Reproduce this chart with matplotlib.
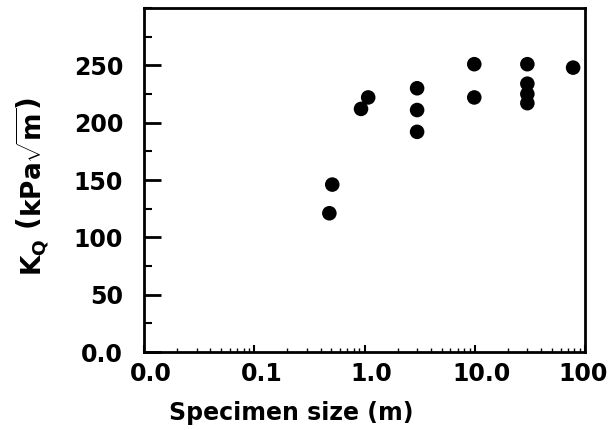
import matplotlib
matplotlib.use("Agg")
import matplotlib.pyplot as plt
import matplotlib.transforms as mtransforms
from matplotlib.ticker import FixedLocator, FixedFormatter, LogLocator, MultipleLocator, NullFormatter

plt.rcParams['font.family'] = ['DejaVu Sans']
plt.rcParams['font.weight'] = 'bold'
plt.rcParams['mathtext.fontset'] = 'custom'
plt.rcParams['mathtext.rm'] = 'DejaVu Sans:bold'
plt.rcParams['mathtext.it'] = 'DejaVu Sans:bold'
plt.rcParams['mathtext.sf'] = 'DejaVu Sans:bold'
plt.rcParams['mathtext.bf'] = 'DejaVu Sans:bold'

size_m = [0.48, 0.51, 0.93, 1.08, 3.0, 3.0, 3.0, 9.9, 9.9, 30, 30, 30, 30, 78]
kq = [121, 146, 212, 222, 230, 211, 192, 251, 222, 251, 234, 225, 217, 248]

xticks = [0.01, 0.1, 1, 10, 100]
xticklabels = ["0.0", "0.1", "1.0", "10.0", "100"]
yticks = [0, 50, 100, 150, 200, 250]
yticklabels = ["0.0", "50", "100", "150", "200", "250"]

fig = plt.figure(figsize=(6.08, 4.30), dpi=100)
ax = fig.add_axes([144/608, 1 - 352/430, (585-144)/608, (352-8)/430])
ax.scatter(size_m, kq, s=110, color='black', edgecolors='none', zorder=3)
ax.set_xscale('log')
ax.set_xlim(0.01, 100)
ax.set_ylim(0, 300)
ax.xaxis.set_major_locator(FixedLocator(xticks))
ax.xaxis.set_major_formatter(FixedFormatter(xticklabels))
ax.xaxis.set_minor_locator(LogLocator(base=10, subs=range(2, 10)))
ax.xaxis.set_minor_formatter(NullFormatter())
ax.yaxis.set_major_locator(FixedLocator(yticks))
ax.yaxis.set_major_formatter(FixedFormatter(yticklabels))
ax.yaxis.set_minor_locator(MultipleLocator(25))
ax.tick_params(axis='both', which='both', direction='in', top=False, right=False)
ax.tick_params(axis='y', which='major', length=12, width=2, labelsize=17, pad=15)
ax.tick_params(axis='y', which='minor', length=6, width=1.5)
ax.tick_params(axis='x', which='major', length=5, width=1.5, labelsize=17, pad=7)
ax.tick_params(axis='x', which='minor', length=3, width=1)
xlabs = ax.get_xticklabels()
for i, lab in enumerate(xlabs):
    lab.set_fontweight('bold')
    dx = 7 if i < len(xlabs) - 1 else -2
    lab.set_transform(lab.get_transform() + mtransforms.ScaledTranslation(dx/100, 0, fig.dpi_scale_trans))
for lab in ax.get_yticklabels():
    lab.set_fontweight('bold')
for sp in ax.spines.values():
    sp.set_linewidth(2)
ax.set_xlabel("Specimen size (m)", fontsize=17, fontweight='bold', va='center')
ax.xaxis.set_label_coords(0.333, -0.177)
ax.set_ylabel(r"$\mathbf{K_Q\ \left(kPa\sqrt{m}\right)}$", fontsize=19, va='center')
ax.yaxis.set_label_coords(-0.252, 0.48)
fig.savefig("out.png", dpi=100)
